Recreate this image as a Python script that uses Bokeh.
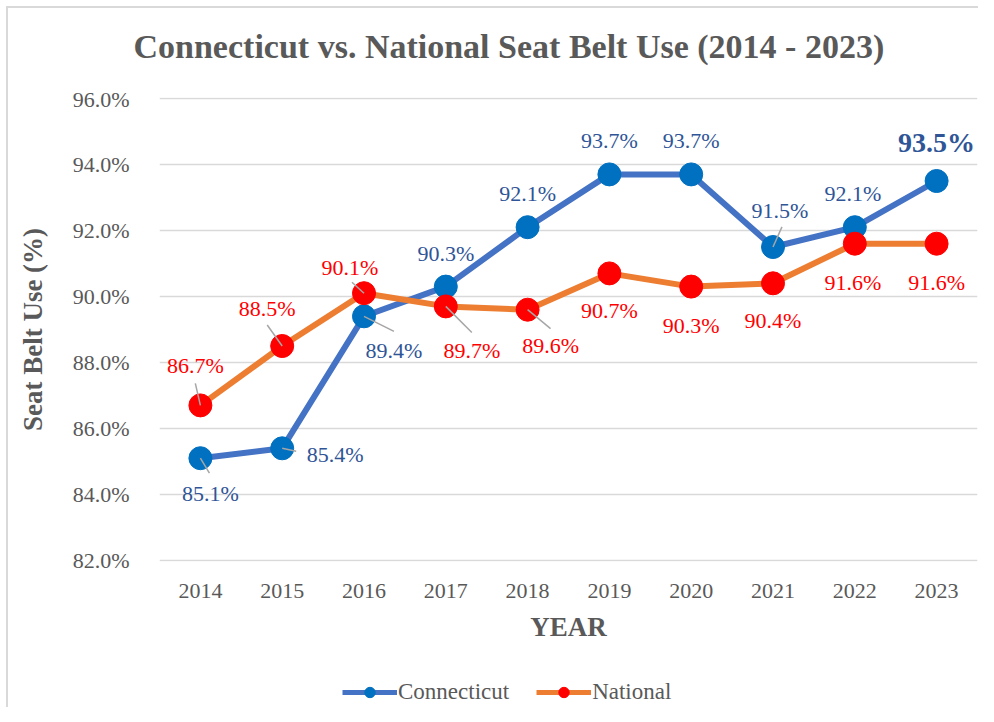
from bokeh.plotting import figure
from bokeh.layouts import column
from bokeh.models import (Range1d, FixedTicker, PrintfTickFormatter, Legend, LegendItem,
                          ColumnDataSource)
from bokeh.core.properties import value
from bokeh.embed import file_html
from bokeh.resources import INLINE

years = ["2014", "2015", "2016", "2017", "2018", "2019", "2020", "2021", "2022", "2023"]
connecticut = [85.1, 85.4, 89.4, 90.3, 92.1, 93.7, 93.7, 91.5, 92.1, 93.5]
national = [86.7, 88.5, 90.1, 89.7, 89.6, 90.7, 90.3, 90.4, 91.6, 91.6]
y_ticks = [82, 84, 86, 88, 90, 92, 94, 96]
series_names = ["Connecticut", "National"]
title_text = "Connecticut vs. National Seat Belt Use (2014 - 2023)"

# label placement (screen px; dy positive = downward)
ct_dx = [10, 53, 30, 0, 0, 0, 0, 7, -2, 0]
ct_dy = [35, 6, 34, -33, -34, -34, -34, -36, -34, -38]
nat_dx = [-5, -15, -14, 26, 23, 0, 0, 0, -2, 0]
nat_dy = [-40, -38, -26, 44, 36, 37, 39, 37, 39, 39]
# leader lines: index -> (angle deg, length px)
ct_leaders = {0: (-59, 17.5), 1: (-12, 14.3), 2: (-26.6, 33.5), 7: (66, 22)}
nat_leaders = {0: (103, 22.6), 1: (125.5, 25.8), 2: (137.5, 16.3), 3: (-45, 36.8), 4: (-39.6, 29.8)}

SERIF = "Liberation Serif"
GRAY = "#595959"
BLUE_LINE = "#4472C4"
BLUE_MARK = "#0070C0"
BLUE_TEXT = "#2F5597"
ORANGE = "#ED7D31"
RED = "#FF0000"
W = 970


def blank(fig):
    fig.axis.visible = False
    fig.grid.grid_line_color = None
    fig.outline_line_color = None
    fig.background_fill_color = "white"
    fig.border_fill_color = "white"


# ---- header strip carrying the chart title
hd = figure(width=W, height=78, output_backend="svg", toolbar_location=None,
            x_range=Range1d(0, 1), y_range=Range1d(0, 1),
            min_border_left=151, min_border_right=1, min_border_top=0, min_border_bottom=0)
blank(hd)
hd.title.text = title_text
hd.title.align = "left"
hd.title.offset = -26
hd.title.standoff = 34
hd.title.text_font = SERIF
hd.title.text_font_size = "34px"
hd.title.text_font_style = "bold"
hd.title.text_color = GRAY

# ---- main chart (range padded by a hair so the 82 % and 96 % gridlines are not clipped)
p = figure(x_range=years, y_range=Range1d(81.97, 96.03), width=W, height=565,
           output_backend="svg", toolbar_location=None,
           min_border_left=151, min_border_right=1, min_border_top=11, min_border_bottom=90)
p.outline_line_color = None
p.background_fill_color = "white"
p.border_fill_color = "white"

p.yaxis.ticker = FixedTicker(ticks=y_ticks)
p.yaxis.formatter = PrintfTickFormatter(format="%.1f%%")
for ax in (p.xaxis[0], p.yaxis[0]):
    ax.axis_line_color = None
    ax.major_tick_line_color = None
    ax.minor_tick_line_color = None
    ax.major_label_text_font = SERIF
    ax.major_label_text_font_size = "22px"
    ax.major_label_text_color = GRAY
    ax.axis_label_text_font = SERIF
    ax.axis_label_text_font_size = "27px"
    ax.axis_label_text_font_style = "bold"
    ax.axis_label_text_color = GRAY
p.yaxis.axis_label = "Seat Belt Use (%)"
p.xaxis.axis_label = "YEAR"
p.yaxis.major_label_standoff = 24
p.yaxis.axis_label_standoff = 22
p.xaxis.major_label_standoff = 16
p.xaxis.axis_label_standoff = 11

p.xgrid.grid_line_color = None
p.ygrid.grid_line_color = "#D9D9D9"
p.ygrid.grid_line_width = 1.5

src = ColumnDataSource(dict(year=years, ct=connecticut, nat=national,
                            ct_lab=[f"{v:.1f}%" for v in connecticut],
                            nat_lab=[f"{v:.1f}%" for v in national],
                            ct_dx=ct_dx, ct_dy=ct_dy, nat_dx=nat_dx, nat_dy=nat_dy))

p.line("year", "ct", source=src, line_color=BLUE_LINE, line_width=6)
p.line("year", "nat", source=src, line_color=ORANGE, line_width=6)
p.scatter("year", "ct", source=src, size=23, fill_color=BLUE_MARK, line_color=BLUE_MARK)
p.scatter("year", "nat", source=src, size=23, fill_color=RED, line_color=RED)


def leaders(idx_map, vals):
    idx = sorted(idx_map)
    return dict(x=[years[i] for i in idx], y=[vals[i] for i in idx],
                a=[idx_map[i][0] for i in idx], ln=[idx_map[i][1] for i in idx])


for d in (leaders(ct_leaders, connecticut), leaders(nat_leaders, national)):
    p.ray(x="x", y="y", angle="a", length="ln", source=ColumnDataSource(d),
          angle_units="deg", length_units="screen", line_color="#A6A6A6", line_width=1.5)

n = len(years)
ct_src_norm = ColumnDataSource({k: v[:n - 1] for k, v in src.data.items()})
ct_src_last = ColumnDataSource({k: v[n - 1:] for k, v in src.data.items()})
p.text("year", "ct", text="ct_lab", source=ct_src_norm, x_offset="ct_dx", y_offset="ct_dy",
       text_align="center", text_baseline="middle", text_font=value(SERIF),
       text_font_size="22px", text_color=BLUE_TEXT)
p.text("year", "ct", text="ct_lab", source=ct_src_last, x_offset="ct_dx", y_offset="ct_dy",
       text_align="center", text_baseline="middle", text_font=value(SERIF),
       text_font_size="28px", text_font_style="bold", text_color=BLUE_TEXT)
p.text("year", "nat", text="nat_lab", source=src, x_offset="nat_dx", y_offset="nat_dy",
       text_align="center", text_baseline="middle", text_font=value(SERIF),
       text_font_size="22px", text_color=RED)

# ---- legend strip below the chart (same series styles; sample point lies outside its view)
lg = figure(width=W, height=56, output_backend="svg", toolbar_location=None,
            x_range=Range1d(0, 1), y_range=Range1d(0, 1),
            min_border_left=151, min_border_right=1, min_border_top=0, min_border_bottom=0)
blank(lg)
off = ColumnDataSource(dict(x=[5.0], y=[5.0]))
ll_ct = lg.line("x", "y", source=off, line_color=BLUE_LINE, line_width=5)
lm_ct = lg.scatter("x", "y", source=off, size=23, fill_color=BLUE_MARK, line_color=BLUE_MARK)
ll_nat = lg.line("x", "y", source=off, line_color=ORANGE, line_width=5)
lm_nat = lg.scatter("x", "y", source=off, size=23, fill_color=RED, line_color=RED)
legend = Legend(items=[LegendItem(label=series_names[0], renderers=[ll_ct, lm_ct]),
                       LegendItem(label=series_names[1], renderers=[ll_nat, lm_nat])],
                location=(183, 2), orientation="horizontal",
                label_text_font=SERIF, label_text_font_size="23px", label_text_color=GRAY,
                glyph_width=55, glyph_height=26, label_standoff=1, spacing=27,
                padding=0, margin=0, border_line_color=None, background_fill_alpha=0)
lg.add_layout(legend, "center")

page = column(hd, p, lg, spacing=0)
page.styles = {"margin-left": "6px", "margin-top": "6px",
               "border-left": "2px solid #D9D9D9", "border-top": "2px solid #D9D9D9"}

open("out.html", "w").write(file_html(page, INLINE))
